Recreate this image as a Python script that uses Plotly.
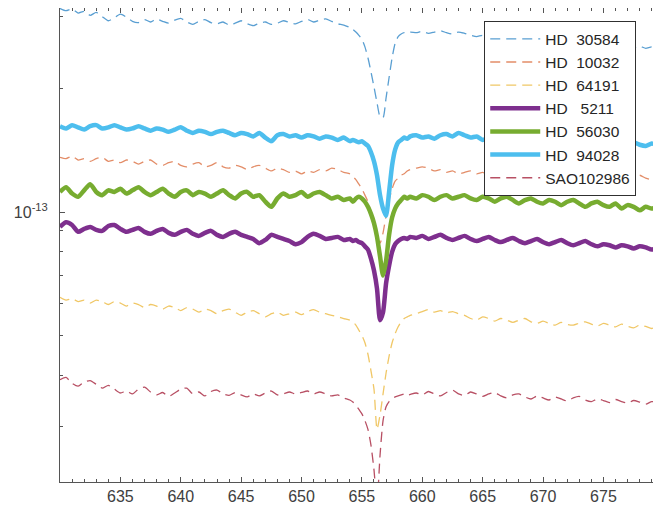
import numpy as np
import plotly.graph_objects as go

# wavelength grid (nm): 0.5 nm sampling, 0.25 nm around H-alpha
wl = np.concatenate([np.arange(630.0, 654.01, 0.5),
                     np.arange(654.25, 659.01, 0.25),
                     np.arange(659.5, 680.01, 0.5)])

# fluxes in units of 1e-14
hd30584 = [31.4,31.0,31.3,30.6,30.9,30.2,30.7,30.0,29.3,29.8,
           30.4,29.9,29.2,29.0,29.5,29.1,29.6,29.2,28.9,29.4,
           29.7,29.1,28.7,29.2,29.5,29.0,28.8,29.1,28.6,28.9,
           29.3,28.8,28.5,28.9,29.1,28.7,28.9,29.3,29.0,28.8,
           29.2,29.5,29.1,29.4,29.6,29.2,28.8,28.6,28.2,
           27.9,27.5,27.0,26.4,25.3,23.8,22.0,20.2,18.5,17.1,
           17.0,19.0,21.3,23.8,25.8,26.8,27.2,27.4,27.3,27.5,
           27.4,27.6,27.3,27.5,27.7,27.4,27.2,27.5,27.3,27.0,
           26.8,27.0,26.7,26.5,26.8,26.6,26.3,26.5,26.7,26.4,
           26.2,26.4,26.1,25.9,26.2,26.0,25.8,26.0,25.7,25.5,
           25.8,25.6,25.4,25.6,25.3,25.5,25.2,25.4,25.1,25.3,25.0,25.2]

hd10032 = [13.6,13.5,13.7,13.4,13.5,13.3,13.5,13.6,13.3,13.4,
           13.2,13.4,13.3,13.1,13.3,13.4,13.1,13.0,13.2,13.3,
           13.0,12.9,13.1,13.2,12.9,13.0,13.2,12.9,12.8,13.0,
           12.9,12.7,12.9,13.0,12.8,12.6,12.8,12.7,12.5,12.6,
           12.4,12.6,12.5,12.7,12.6,12.8,12.7,12.5,12.4,
           12.2,12.0,11.7,11.4,11.0,10.6,10.0,9.3,8.6,8.4,
           8.9,9.8,10.7,11.4,11.9,12.1,12.3,12.4,12.6,12.7,
           12.8,12.9,12.8,12.6,12.7,12.5,12.6,12.4,12.5,12.6,
           12.4,12.5,12.3,12.5,12.4,12.6,12.4,12.3,12.5,12.4,
           12.2,12.4,12.5,12.3,12.2,12.4,12.3,12.1,12.3,12.2,
           12.4,12.2,12.1,12.3,12.2,12.0,12.2,12.3,12.1,12.0,12.2,12.1]

hd64191 = [6.2,6.1,6.15,6.05,6.1,6.0,6.1,6.05,5.95,6.05,
           6.0,5.9,6.0,5.95,5.85,5.95,5.9,5.8,5.9,5.85,
           5.75,5.85,5.8,5.7,5.8,5.75,5.65,5.75,5.8,5.7,
           5.6,5.7,5.75,5.65,5.55,5.65,5.7,5.6,5.65,5.7,
           5.62,5.72,5.78,5.7,5.65,5.6,5.55,5.5,5.45,
           5.4,5.3,5.15,5.0,4.8,4.5,4.1,3.7,2.95,3.2,
           3.6,4.05,4.45,4.8,5.05,5.25,5.4,5.5,5.55,5.6,
           5.65,5.72,5.78,5.7,5.75,5.68,5.72,5.65,5.6,5.5,
           5.45,5.55,5.5,5.42,5.5,5.45,5.38,5.45,5.5,5.4,
           5.35,5.42,5.35,5.3,5.38,5.32,5.3,5.36,5.4,5.33,
           5.27,5.35,5.3,5.25,5.33,5.27,5.22,5.3,5.26,5.2,5.27,5.22]

hd5211 = [9.2,9.45,9.3,8.95,9.1,9.2,9.05,9.0,9.25,9.3,
          9.1,8.95,9.05,9.15,8.95,8.85,9.0,9.1,8.9,8.8,
          8.95,9.05,8.85,8.75,8.9,9.0,8.8,8.7,8.85,8.95,
          8.8,8.7,8.6,8.4,8.55,8.8,8.7,8.6,8.5,8.35,
          8.45,8.7,8.85,8.75,8.6,8.65,8.7,8.55,8.6,
          8.5,8.55,8.45,8.4,8.25,8.1,7.7,7.2,6.5,5.45,
          5.7,6.7,7.4,8.0,8.35,8.5,8.6,8.65,8.6,8.7,
          8.65,8.75,8.6,8.7,8.8,8.65,8.55,8.65,8.75,8.6,
          8.5,8.6,8.7,8.55,8.45,8.55,8.65,8.5,8.4,8.5,
          8.6,8.45,8.35,8.45,8.55,8.4,8.3,8.4,8.5,8.35,
          8.25,8.35,8.3,8.2,8.3,8.25,8.15,8.25,8.2,8.1,8.2,8.15]

hd56030 = [11.2,11.5,11.1,10.9,11.3,11.7,11.2,11.0,11.3,11.2,
           11.4,11.1,11.3,11.5,11.2,11.0,11.2,11.4,11.1,10.9,
           11.2,11.3,11.0,11.2,11.1,10.9,11.1,11.3,11.0,10.8,
           11.1,11.2,10.9,11.0,10.6,10.3,10.8,11.1,10.9,11.0,
           11.2,10.9,11.1,11.2,11.0,10.8,10.9,10.7,10.8,
           10.6,10.8,10.9,10.8,10.6,10.3,9.9,9.4,8.7,7.8,
           7.0,7.6,8.8,9.7,10.2,10.5,10.7,10.9,10.8,10.9,
           10.8,11.0,10.9,10.7,10.9,11.0,10.8,10.9,11.0,10.8,
           10.7,10.9,10.8,10.6,10.8,10.9,10.7,10.5,10.7,10.8,
           10.6,10.5,10.7,10.6,10.4,10.6,10.7,10.5,10.3,10.5,
           10.6,10.4,10.3,10.5,10.2,10.4,10.3,10.1,10.3,10.2,10.3,10.2]

hd94028 = [16.2,16.0,16.3,16.1,15.9,16.2,16.3,16.0,16.1,16.3,
           16.1,15.9,16.0,16.2,16.0,15.8,16.0,15.9,15.7,15.9,
           16.1,15.8,15.6,15.8,15.7,15.5,15.7,15.8,15.6,15.4,
           15.6,15.5,15.3,15.6,15.2,14.9,15.4,15.5,15.3,15.4,
           15.2,15.4,15.3,15.1,15.3,15.2,15.0,15.2,14.9,
           15.0,14.9,14.8,14.9,14.7,14.5,14.0,13.3,12.3,11.0,
           10.2,9.8,11.2,13.0,14.2,14.8,15.0,15.2,15.1,15.3,
           15.4,15.2,15.3,15.1,15.4,15.5,15.3,15.6,15.4,15.2,
           15.3,15.0,15.2,15.1,14.9,15.1,15.0,14.8,15.0,15.1,
           14.9,14.8,15.0,14.9,14.7,14.9,14.8,14.6,14.8,14.9,
           14.7,14.6,14.8,14.7,14.5,14.7,14.8,14.6,14.5,14.7,14.6,14.5]

sao102986 = [3.9,3.95,3.82,3.76,3.85,3.88,3.8,3.72,3.78,3.7,
             3.62,3.66,3.6,3.7,3.74,3.64,3.58,3.63,3.55,3.62,
             3.7,3.72,3.6,3.64,3.56,3.65,3.68,3.6,3.57,3.63,
             3.58,3.54,3.6,3.56,3.62,3.66,3.58,3.6,3.64,3.6,
             3.63,3.66,3.6,3.64,3.6,3.56,3.58,3.52,3.48,
             3.44,3.38,3.3,3.22,3.1,2.95,2.7,2.35,1.95,2.55,
             3.1,3.35,3.45,3.5,3.54,3.56,3.58,3.6,3.57,3.59,
             3.62,3.58,3.65,3.6,3.56,3.63,3.68,3.6,3.57,3.64,
             3.6,3.55,3.6,3.63,3.56,3.52,3.58,3.6,3.54,3.5,
             3.56,3.52,3.48,3.54,3.5,3.46,3.52,3.55,3.48,3.45,
             3.5,3.47,3.43,3.49,3.45,3.42,3.47,3.44,3.4,3.45,3.42,3.4]

names = ["HD\u00a0\u00a030584", "HD\u00a0\u00a010032", "HD\u00a0\u00a064191",
         "HD\u00a0\u00a0\u00a05211", "HD\u00a0\u00a056030", "HD\u00a0\u00a094028",
         "SAO102986"]
series = [hd30584, hd10032, hd64191, hd5211, hd56030, hd94028, sao102986]
colors = ["#5A9FD2", "#E38D68", "#F0C766", "#7E2F8E", "#77AC30", "#4DBEEE", "#B85064"]
widths = [1.3, 1.3, 1.3, 4.5, 4.5, 4.5, 1.3]
dashes = ["10px,6px", "10px,6px", "10px,6px", "solid", "solid", "solid", "10px,6px"]

x_ticks = [635, 640, 645, 650, 655, 660, 665, 670, 675]
y_minor = [3e-14, 4e-14, 5e-14, 6e-14, 7e-14, 8e-14, 9e-14, 2e-13, 3e-13]

fig = go.Figure()
for nm, vals, c, w, d in zip(names, series, colors, widths, dashes):
    assert len(vals) == len(wl), (nm, len(vals), len(wl))
    fig.add_trace(go.Scatter(x=wl, y=np.array(vals) * 1e-14, mode="lines", name=nm,
                             line=dict(color=c, width=w, dash=d, shape="spline", smoothing=0.6)))

axcol = "#555555"
fig.update_layout(
    width=653, height=502,
    margin=dict(l=52, r=2, t=0, b=28),
    paper_bgcolor="white", plot_bgcolor="white",
    font=dict(family="Liberation Sans, Arial, sans-serif", color="#404040", size=15),
    showlegend=True,
    legend=dict(x=0.962, xanchor="right", y=0.972, yanchor="top",
                bgcolor="white", bordercolor="#303030", borderwidth=1,
                font=dict(size=15.5, color="#262626"), itemwidth=50),
    xaxis=dict(range=[630, 679.6], tickmode="array", tickvals=x_ticks,
               ticks="inside", ticklen=5, tickcolor=axcol, showline=True,
               linecolor=axcol, linewidth=1, mirror="ticks", showgrid=False,
               zeroline=False, tickfont=dict(size=16, color="#404040"),
               minor=dict(ticks="inside", dtick=1, tick0=630, ticklen=3,
                          tickcolor=axcol, showgrid=False)),
    yaxis=dict(type="log", range=[-13.6585, -12.502], tickmode="array",
               tickvals=[1e-13], ticktext=["10<sup>-13</sup>"],
               ticks="inside", ticklen=5, tickcolor=axcol, showline=True,
               linecolor=axcol, linewidth=1, mirror="ticks", showgrid=False,
               zeroline=False, tickfont=dict(size=16, color="#404040"),
               ticklabelstandoff=8,
               minor=dict(ticks="inside", tickmode="array", tickvals=y_minor,
                          ticklen=3, tickcolor=axcol, showgrid=False)),
)

fig.write_html("out.html")
